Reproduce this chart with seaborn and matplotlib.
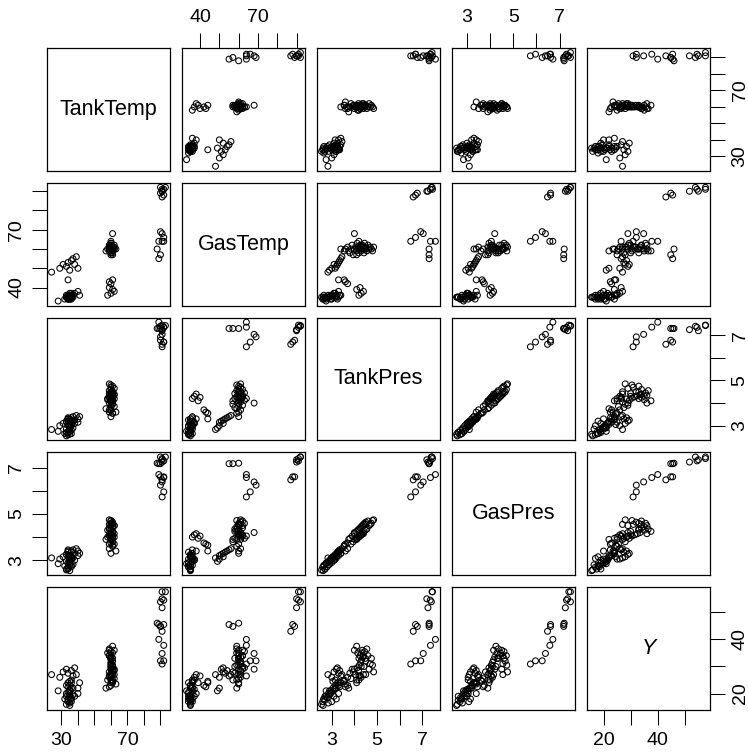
import pandas as pd
import seaborn as sns
import matplotlib
matplotlib.use("Agg")
import matplotlib.pyplot as plt

# sniffer-style data (grouped by tank temperature)
tank_temp = [33, 34, 35, 36, 34, 35, 36, 33, 37, 35, 34, 36, 35, 33, 37, 36, 35, 34, 28, 38,
             40, 41, 32, 35, 36, 34, 35, 36, 33, 35,
             24, 29, 31, 33, 34, 35, 36, 37, 38, 39, 40, 34,
             59, 60, 61, 58, 60, 62, 61, 59,
             60, 61, 59, 60, 62, 60, 61, 59, 60, 61, 60, 58, 62, 60, 61, 59, 60, 61, 60, 62,
             60, 59, 61, 60, 60, 61, 59, 60, 62, 60, 61, 60, 59, 60, 61, 63, 57, 60, 61, 60,
             91, 92, 90, 91, 92, 90, 91, 93, 91, 89, 90, 88, 91, 92, 90, 91, 92, 89]
gas_temp = [35, 34, 35, 36, 35, 34, 35, 36, 35, 36, 34, 35, 37, 35, 36, 34, 35, 36, 33, 37,
            38, 36, 34, 35, 36, 35, 34, 37, 35, 36,
            48, 50, 52, 51, 53, 49, 54, 55, 52, 56, 50, 44,
            43, 42, 44, 36, 37, 38, 39, 40,
            60, 59, 61, 58, 60, 62, 57, 60, 61, 59, 63, 60, 61, 58, 60, 62, 61, 59, 60, 62,
            61, 60, 58, 63, 60, 61, 59, 62, 60, 61, 60, 59, 61, 64, 68, 60, 59, 57, 60, 62,
            87, 88, 89, 90, 91, 92, 91, 92, 90, 55, 57, 60, 64, 66, 69, 68, 64, 64]
tank_pres = [2.55, 2.60, 2.62, 2.65, 2.70, 2.75, 2.80, 2.85, 2.90, 2.95, 3.00, 3.05, 3.10, 3.15,
             3.20, 3.25, 3.30, 3.35, 2.75, 3.10, 3.30, 3.40, 2.65, 2.85, 3.00, 3.20, 2.95, 3.15,
             2.70, 3.05,
             2.83, 3.00, 3.10, 3.20, 3.30, 2.90, 3.35, 3.40, 3.25, 3.45, 3.15, 3.30,
             3.60, 3.70, 3.55, 4.20, 4.30, 4.40, 4.10, 4.25,
             3.40, 3.55, 3.70, 3.80, 3.85, 3.90, 3.95, 4.00, 4.05, 4.10, 4.12, 4.15, 4.18, 4.20,
             4.22, 4.25, 4.28, 4.30, 4.32, 4.35, 4.38, 4.40, 4.42, 4.45, 4.48, 4.50, 4.55, 4.60,
             4.65, 4.70, 4.75, 4.80, 4.85, 4.20, 4.00, 3.60, 3.75, 4.10, 4.50, 4.30,
             6.60, 6.70, 6.78, 7.25, 7.35, 7.40, 7.45, 7.43, 7.20, 7.30, 7.30, 7.30, 6.49, 6.70,
             6.93, 7.04, 7.36, 7.58]
gas_pres = [2.58, 2.70, 2.55, 2.78, 2.62, 2.88, 2.72, 2.95, 2.82, 3.05, 2.90, 3.15, 3.00, 3.25,
            3.10, 3.35, 3.20, 3.45, 2.85, 3.00, 3.40, 3.30, 2.75, 2.80, 3.08, 3.15, 3.05, 3.05,
            2.62, 3.15,
            3.10, 3.05, 3.15, 3.25, 3.35, 2.95, 3.40, 3.45, 3.30, 3.50, 3.20, 3.40,
            3.70, 3.75, 3.65, 4.00, 4.10, 4.15, 3.95, 4.05,
            3.30, 3.60, 3.50, 3.95, 3.70, 4.05, 3.80, 4.15, 3.90, 4.25, 3.95, 4.30, 4.00, 4.35,
            4.05, 4.40, 4.10, 4.45, 4.15, 4.50, 4.20, 4.55, 4.25, 4.60, 4.30, 4.65, 4.35, 4.70,
            4.50, 4.55, 4.60, 4.72, 4.75, 4.05, 4.20, 3.40, 3.90, 3.90, 4.55, 4.10,
            6.48, 6.61, 6.61, 7.25, 7.30, 7.47, 7.40, 7.47, 7.35, 7.18, 7.18, 7.20, 5.74, 5.96,
            6.25, 6.39, 6.58, 6.71]
y_vals = [16.0, 17.0, 15.6, 18.0, 17.5, 19.0, 18.5, 20.0, 19.5, 21.0, 20.5, 22.0, 21.5, 23.0,
          22.0, 24.0, 23.0, 22.5, 21.0, 19.0, 20.0, 24.0, 18.0, 16.5, 17.0, 18.0, 20.0, 25.0,
          19.0, 24.5,
          27.0, 26.0, 28.0, 29.0, 27.5, 21.0, 28.5, 26.5, 29.5, 27.0, 22.0, 24.0,
          22.5, 23.0, 24.5, 25.0, 26.0, 27.0, 24.0, 26.5,
          24.0, 25.0, 26.0, 27.5, 25.5, 29.0, 28.0, 36.0, 27.0, 37.5, 29.5, 35.0, 28.5, 33.0,
          30.5, 34.0, 31.5, 35.0, 32.5, 36.0, 33.5, 34.0, 30.0, 35.5, 33.0, 32.0, 36.5, 34.0,
          29.0, 31.0, 33.0, 30.5, 28.0, 26.5, 29.0, 23.5, 22.0, 25.0, 27.0, 30.0,
          43.0, 45.5, 44.8, 51.7, 54.5, 53.9, 57.6, 57.6, 55.0, 45.5, 44.8, 46.0, 30.9, 32.1,
          32.1, 34.8, 37.8, 40.0]

var_names = ["TankTemp", "GasTemp", "TankPres", "GasPres", "Y"]
var_ticks = [[30, 40, 50, 60, 70, 80, 90], [40, 50, 60, 70, 80, 90],
             [3, 4, 5, 6, 7], [3, 4, 5, 6, 7], [20, 30, 40, 50]]
var_labels = [["30", "", "", "", "70", "", ""], ["40", "", "", "70", "", ""],
              ["3", "", "5", "", "7"], ["3", "", "5", "", "7"], ["20", "", "40", ""]]

df = pd.DataFrame({"TankTemp": tank_temp, "GasTemp": gas_temp, "TankPres": tank_pres,
                   "GasPres": gas_pres, "Y": y_vals})

sns.set_style("white")
plt.rcParams["font.family"] = ["Liberation Sans", "DejaVu Sans"]
plt.rcParams["text.color"] = "black"
plt.rcParams["axes.xmargin"] = 0.04
plt.rcParams["axes.ymargin"] = 0.04

g = sns.PairGrid(df, vars=var_names, despine=False, height=1.5)
g.map_offdiag(sns.scatterplot, facecolor="none", edgecolor="black", s=18, linewidth=0.75)

g.figure.set_size_inches(7.48, 7.52)
g.figure.subplots_adjust(left=47/748, right=710/748, bottom=1-710/752, top=1-48/752,
                         wspace=0.098, hspace=0.098)

n = len(var_names)
for i in range(n):
    for j in range(n):
        ax = g.axes[i, j]
        ax.set_xlabel("")
        ax.set_ylabel("")
        for sp in ax.spines.values():
            sp.set_visible(True)
            sp.set_color("black")
            sp.set_linewidth(0.9)
        ax.tick_params(bottom=False, top=False, left=False, right=False,
                       labelbottom=False, labeltop=False, labelleft=False, labelright=False)
        ax.tick_params(direction="out", length=10.5, width=0.75, pad=5, labelsize=14, colors="black")
        ax.tick_params(axis="y", labelrotation=90)

for j in range(n):
    g.axes[0, j].set_xticks(var_ticks[j], labels=var_labels[j])
    g.axes[j, 0].set_yticks(var_ticks[j], labels=var_labels[j])

for j in range(n):
    if j % 2 == 0:
        g.axes[n-1, j].tick_params(bottom=True, labelbottom=True)
    else:
        g.axes[0, j].tick_params(top=True, labeltop=True)
for i in range(n):
    if i % 2 == 0:
        g.axes[i, n-1].tick_params(right=True, labelright=True)
    else:
        g.axes[i, 0].tick_params(left=True, labelleft=True)
    for lab in g.axes[i, 0].get_yticklabels() + g.axes[i, n-1].get_yticklabels():
        lab.set_verticalalignment("center")

for i, name in enumerate(var_names):
    g.axes[i, i].text(0.5, 0.5, name, transform=g.axes[i, i].transAxes, ha="center", va="center",
                      fontsize=15.5, color="black", style="italic" if name == "Y" else "normal")

g.figure.savefig("out.png", dpi=100)
